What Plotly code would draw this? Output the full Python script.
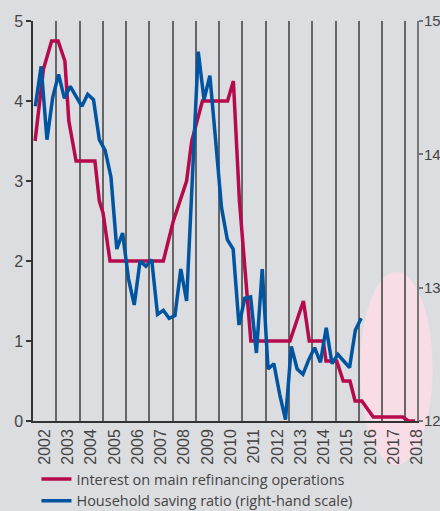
import plotly.graph_objects as go

# ---------------- data ----------------
years = list(range(2002, 2019))
year_labels = [str(y) for y in years]
year_bounds = list(range(2003, 2019))

rate_name = "Interest on main refinancing operations"
rate_x = [2002.09, 2002.45, 2002.80, 2003.08, 2003.37, 2003.54, 2003.85, 2004.66,
          2004.85, 2005.01, 2005.31, 2007.60, 2008.03, 2008.60, 2008.82, 2009.28,
          2010.36, 2010.61, 2010.87, 2011.36, 2013.04, 2013.62, 2013.87, 2014.47,
          2014.59, 2015.05, 2015.33, 2015.62, 2015.84, 2016.13, 2016.62, 2017.89,
          2018.13, 2018.42]
rate_y = [3.50, 4.40, 4.75, 4.75, 4.50, 3.75, 3.25, 3.25,
          2.75, 2.60, 2.00, 2.00, 2.50, 3.00, 3.50, 4.00,
          4.00, 4.25, 2.75, 1.00, 1.00, 1.50, 1.00, 1.00,
          0.75, 0.75, 0.50, 0.50, 0.25, 0.25, 0.05, 0.05,
          0.00, 0.00]

saving_name = "Household saving ratio (right-hand scale)"
saving_x = [2002.10, 2002.35, 2002.60, 2002.85, 2003.10, 2003.35, 2003.60, 2003.85,
            2004.10, 2004.35, 2004.60, 2004.85, 2005.10, 2005.35, 2005.60, 2005.85,
            2006.10, 2006.35, 2006.60, 2006.85, 2007.10, 2007.35, 2007.60, 2007.85,
            2008.10, 2008.35, 2008.60, 2008.85, 2009.10, 2009.35, 2009.60, 2009.85,
            2010.10, 2010.35, 2010.60, 2010.85, 2011.10, 2011.35, 2011.60, 2011.85,
            2012.10, 2012.35, 2012.60, 2012.85, 2013.10, 2013.35, 2013.60, 2013.85,
            2014.10, 2014.35, 2014.60, 2014.85, 2015.10, 2015.35, 2015.60, 2015.85,
            2016.10]
saving_y = [14.36, 14.66, 14.11, 14.43, 14.60, 14.42, 14.51, 14.44,
            14.36, 14.45, 14.41, 14.11, 14.03, 13.83, 13.29, 13.41,
            13.07, 12.87, 13.20, 13.16, 13.21, 12.80, 12.83, 12.77,
            12.79, 13.14, 12.90, 13.83, 14.77, 14.41, 14.59, 14.10,
            13.60, 13.36, 13.29, 12.72, 12.92, 12.93, 12.51, 13.14,
            12.39, 12.43, 12.20, 12.01, 12.56, 12.39, 12.35, 12.46,
            12.55, 12.44, 12.70, 12.43, 12.50, 12.45, 12.40, 12.68,
            12.77]

left_range = [0, 5]
right_range = [12, 15]
x_range = [2002, 2018.5]

# ---------------- style ----------------
BG = "#dcdde0"
RED = "#b50a4c"
BLUE = "#0054a0"
PINK = "#f9dde6"
GRID = "#666666"
TXT = "#444444"
NARROW = "Liberation Sans Narrow, Arial Narrow, sans-serif"
LEG = "Open Sans, Liberation Sans, Arial, sans-serif"

fig = go.Figure()
fig.add_trace(go.Scatter(x=rate_x, y=rate_y, name=rate_name, mode="lines",
                         line=dict(color=RED, width=3.5), yaxis="y"))
fig.add_trace(go.Scatter(x=saving_x, y=saving_y, name=saving_name, mode="lines",
                         line=dict(color=BLUE, width=3.5), yaxis="y2"))

fig.add_shape(type="circle", xref="paper", yref="paper",
              x0=0.8516, x1=1.0406, y0=-0.11, y1=0.3725,
              fillcolor=PINK, line=dict(width=0), layer="below")

fig.update_layout(
    width=440, height=511,
    margin=dict(l=33, r=23, t=21, b=90, autoexpand=False),
    paper_bgcolor=BG, plot_bgcolor="rgba(0,0,0,0)",
    showlegend=True,
    legend=dict(x=0.009, y=-0.105, xanchor="left", yanchor="top",
                bgcolor="rgba(0,0,0,0)", font=dict(family=LEG, size=14.5, color=TXT),
                tracegroupgap=0, itemwidth=30),
    xaxis=dict(range=x_range, tickvals=[y + 0.5 for y in years], ticktext=year_labels,
               tickangle=-90, ticks="", showgrid=False, zeroline=False, automargin=False,
               showline=True, linecolor="#333333", linewidth=1.5,
               tickfont=dict(family=NARROW, size=16, color=TXT),
               minor=dict(tickvals=year_bounds, showgrid=True, gridcolor=GRID,
                          gridwidth=1.5, ticks="")),
    yaxis=dict(range=left_range, dtick=1, ticks="outside", ticklen=5, tickcolor="#333333",
               tickwidth=1.5, showline=True, linecolor="#333333", linewidth=1.5,
               showgrid=False, zeroline=False, automargin=False,
               tickfont=dict(family=NARROW, size=16, color=TXT)),
    yaxis2=dict(range=right_range, dtick=1, overlaying="y", side="right",
                ticks="outside", ticklen=4, tickcolor="#777777", tickwidth=1.5,
                showline=True, linecolor="#777777", linewidth=2, automargin=False,
                showgrid=False, zeroline=False, ticklabelstandoff=-2,
                tickfont=dict(family=NARROW, size=15, color=TXT)),
)

fig.write_html("out.html",
               config={"displayModeBar": False},
               post_script="document.body.style.margin='0px';"
                           "document.body.style.background='" + BG + "';")
